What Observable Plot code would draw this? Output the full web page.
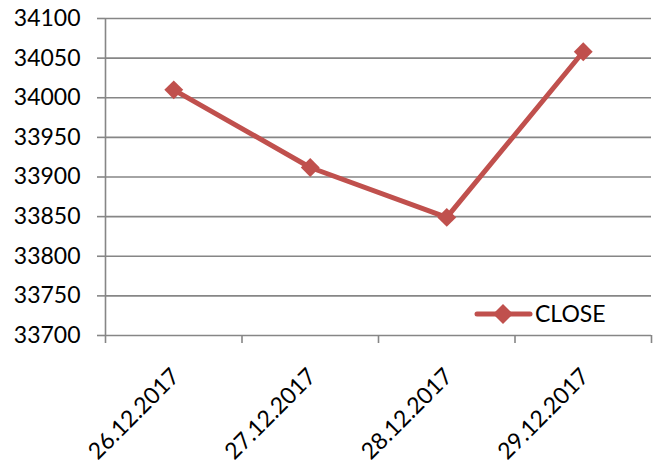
<!DOCTYPE html>
<html>
<head>
<meta charset="utf-8">
<script src="https://cdn.jsdelivr.net/npm/d3@7"></script>
<script src="https://cdn.jsdelivr.net/npm/@observablehq/plot@0.6"></script>
<style>
  html, body { margin: 0; padding: 0; background: #fff; }
  #wrap { position: relative; width: 655px; height: 468px; font-family: Lato, "Open Sans", sans-serif; }
  #legend { position: absolute; left: 470px; top: 298px; }
</style>
</head>
<body>
<div id="wrap">
  <div id="chart"></div>
  <svg id="legend" width="150" height="32">
    <line x1="7" y1="16" x2="60" y2="16" stroke="#C0504D" stroke-width="5" stroke-linecap="round"></line>
    <path d="M33,6 L43,16 L33,26 L23,16 Z" fill="#C0504D"></path>
    <text x="65" y="16" dy="0.35em" font-family="Lato, 'Open Sans', sans-serif" font-size="23" fill="#000">CLOSE</text>
  </svg>
</div>
<script>
const dates = ["26.12.2017", "27.12.2017", "28.12.2017", "29.12.2017"];
const closeValues = [34010, 33912, 33849, 34058];
const yTicks = [33700, 33750, 33800, 33850, 33900, 33950, 34000, 34050, 34100];
const seriesName = "CLOSE";

const rows = dates.map((d, i) => ({i, date: d, close: closeValues[i]}));
const boundaries = d3.range(dates.length + 1).map(k => k - 0.5);

const grid = "#868686";
const red = "#C0504D";

const chart = Plot.plot({
  width: 655,
  height: 468,
  marginLeft: 105,
  marginRight: 4,
  marginTop: 18,
  marginBottom: 133,
  style: {fontFamily: "Lato, 'Open Sans', sans-serif", background: "#fff", color: "#000"},
  x: {type: "linear", domain: [-0.5, dates.length - 0.5]},
  y: {type: "linear", domain: [yTicks[0], yTicks[yTicks.length - 1]]},
  marks: [
    Plot.ruleY(yTicks, {stroke: grid, strokeWidth: 1.6}),
    Plot.ruleX([boundaries[0]], {stroke: grid, strokeWidth: 1.6}),
    Plot.axisY({ticks: yTicks, tickSize: 8, tickPadding: 17, fontSize: 23, stroke: grid, strokeWidth: 1.6, fill: "#000", label: null, tickFormat: d => String(d)}),
    Plot.axisX({ticks: boundaries, tickSize: 8, stroke: grid, strokeWidth: 1.6, tickFormat: () => "", label: null}),
    Plot.text(rows, {x: "i", y: () => yTicks[0], text: "date", dy: 37, dx: 2, rotate: -45, textAnchor: "end", lineAnchor: "middle", fontSize: 23, fill: "#000"}),
    Plot.line(rows, {x: "i", y: "close", stroke: red, strokeWidth: 5, strokeLinejoin: "round"}),
    Plot.dot(rows, {x: "i", y: "close", symbol: "diamond2", r: 8.5, fill: red, stroke: "none"})
  ]
});
document.getElementById("chart").appendChild(chart);
</script>
</body>
</html>
